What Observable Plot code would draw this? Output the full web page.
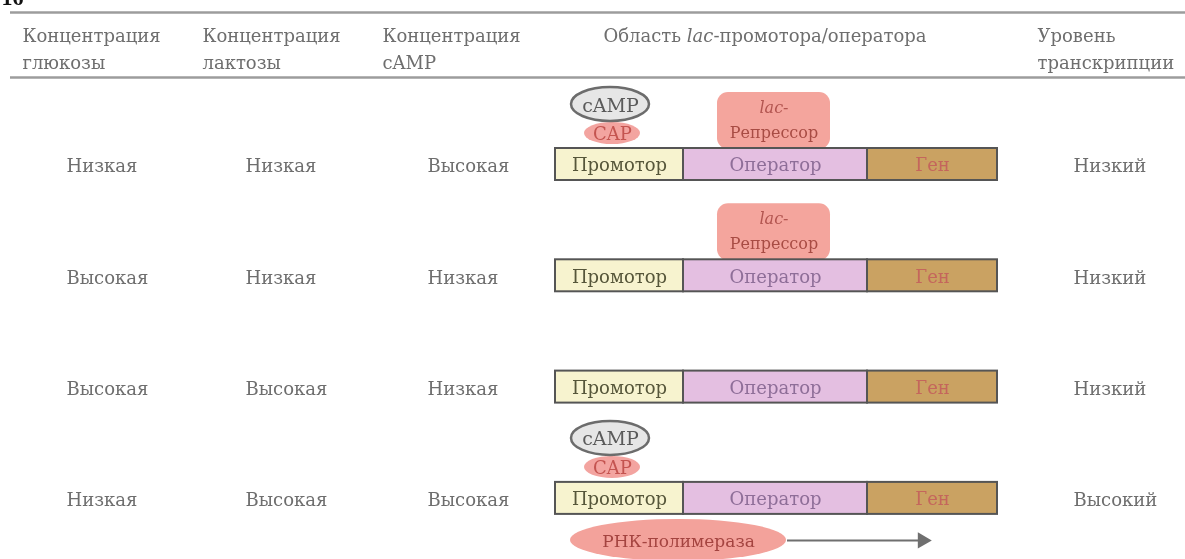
<!DOCTYPE html>
<html>
<head>
<meta charset="utf-8">
<script src="https://cdn.jsdelivr.net/npm/d3@7"></script>
<script src="https://cdn.jsdelivr.net/npm/@observablehq/plot@0.6"></script>
<style>
  html, body { margin: 0; padding: 0; background: #fff; }
  #chart svg { display: block; filter: blur(0.45px); }
</style>
</head>
<body>
<div id="chart"></div>
<script>
// ---------- data ----------
const headers = [
  "Концентрация\nглюкозы",
  "Концентрация\nлактозы",
  "Концентрация\ncAMP",
  "Область lac-промотора/оператора",
  "Уровень\nтранскрипции"
];
const glucose = ["Низкая", "Высокая", "Высокая", "Низкая"];
const lactose = ["Низкая", "Низкая", "Высокая", "Высокая"];
const camp = ["Высокая", "Низкая", "Низкая", "Высокая"];
const transcription = ["Низкий", "Низкий", "Низкий", "Высокий"];
const segments = ["Промотор", "Оператор", "Ген"];
const capBound = [true, false, false, true];
const repressorBound = [true, true, false, false];
const polymeraseBound = [false, false, false, true];
const figureNumber = "16";

// ---------- layout (positions & styles, kept apart from the data) ----------
const W = 1185, H = 559;
const L = {
  ruleY: [12, 77], ruleX1: 10,
  headerX: [22, 202, 382, 603, 1037],
  headerY: 33, headerGap: 27,
  valueX: [66, 245, 427, 1073],
  barTop0: 148, rowStep: 111.3, barH: 32,
  segEdges: [555, 683, 867, 997],
  segFill: ["#f7f3cf", "#e4bfe1", "#caa262"],
  segText: ["#56563a", "#8e6e98", "#c4665c"],
  campX: 610, campRx: 39, campRy: 17, campDy: -44,
  capX: 612, capRx: 28, capRy: 11, capDy: -15,
  repX1: 717, repX2: 830, repH: 56,
  polX: 678, polRx: 108, polRy: 21, polDy: 26,
  arrowX1: 787, arrowX2: 928
};
const font = "DejaVu Serif";
const grey = "#6e6e6e";
const barTop = i => L.barTop0 + i * L.rowStep;
const barMid = i => barTop(i) + L.barH / 2;

const rows = glucose.map((g, i) => ({
  i, glucose: g, lactose: lactose[i], camp: camp[i], level: transcription[i],
  cap: capBound[i], rep: repressorBound[i], pol: polymeraseBound[i]
}));
const segRows = rows.flatMap(r => segments.map((s, j) => ({row: r.i, seg: s, j})));
const capRows = rows.filter(r => r.cap);
const repRows = rows.filter(r => r.rep);
const polRows = rows.filter(r => r.pol);
const headerRows = headers.map((h, k) => ({h, k}));

const valueCols = ["glucose", "lactose", "camp", "level"];

const marks = [
  // figure number, cut at the top edge
  Plot.text([figureNumber], {x: () => 1, y: () => 4, text: d => d, textAnchor: "start", lineAnchor: "bottom",
    fontSize: 22, fontWeight: "bold", fontFamily: "Liberation Serif", fill: "#111"}),
  // header rules
  Plot.ruleY(L.ruleY, {y: d => d, x1: L.ruleX1, x2: W, stroke: "#9c9c9c", strokeWidth: 2.5}),
  // headers
  Plot.text(headerRows, {
    x: d => L.headerX[d.k], y: d => L.headerY + (d.h.includes("\n") ? L.headerGap / 2 : 0),
    text: "h", textAnchor: "start", lineAnchor: "middle", lineHeight: L.headerGap / 18,
    fontSize: 18, fontFamily: font, fill: grey
  }),
  // row values
  ...valueCols.map((c, k) => Plot.text(rows, {
    x: () => L.valueX[k], y: d => barMid(d.i) + 2, text: c,
    textAnchor: "start", lineAnchor: "middle", fontSize: 18, fontFamily: font, fill: grey
  })),
  // cAMP / CAP
  Plot.rect(capRows, {
    x1: d => L.capX - L.capRx, x2: d => L.capX + L.capRx,
    y1: d => barTop(d.i) + L.capDy - L.capRy, y2: d => barTop(d.i) + L.capDy + L.capRy,
    rx: L.capRx, ry: L.capRy, fill: "#f3a4a0", ariaLabel: "cap-blob"
  }),
  Plot.text(capRows, {x: () => L.capX, y: d => barTop(d.i) + L.capDy + 1, text: () => "CAP",
    fontSize: 18, fontFamily: font, fill: "#c45450", lineAnchor: "middle"}),
  Plot.rect(capRows, {
    x1: d => L.campX - L.campRx, x2: d => L.campX + L.campRx,
    y1: d => barTop(d.i) + L.campDy - L.campRy, y2: d => barTop(d.i) + L.campDy + L.campRy,
    rx: L.campRx, ry: L.campRy, fill: "#e6e6e6", stroke: "#6c6c6c", strokeWidth: 2.5
  }),
  Plot.text(capRows, {x: () => L.campX, y: d => barTop(d.i) + L.campDy + 1, text: () => "cAMP",
    fontSize: 19, fontFamily: font, fill: "#5a5a5a", lineAnchor: "middle"}),
  // lac repressor
  Plot.rect(repRows, {
    x1: () => L.repX1, x2: () => L.repX2,
    y1: d => barTop(d.i) - L.repH, y2: d => barTop(d.i) + 1,
    rx: 11, fill: "#f4a59d", ariaLabel: "rep-blob"
  }),
  Plot.text(repRows, {x: () => (L.repX1 + L.repX2) / 2, y: d => barTop(d.i) - 41, text: () => "lac-",
    fontSize: 16, fontStyle: "italic", fontFamily: font, fill: "#b25550", lineAnchor: "middle"}),
  Plot.text(repRows, {x: () => (L.repX1 + L.repX2) / 2, y: d => barTop(d.i) - 16, text: () => "Репрессор",
    fontSize: 16, fontFamily: font, fill: "#a84c44", lineAnchor: "middle"}),
  // DNA bar
  Plot.rect(segRows, {
    x1: d => L.segEdges[d.j], x2: d => L.segEdges[d.j + 1],
    y1: d => barTop(d.row), y2: d => barTop(d.row) + L.barH,
    fill: d => L.segFill[d.j], stroke: "#555", strokeWidth: 2
  }),
  Plot.text(segRows, {
    x: d => (L.segEdges[d.j] + L.segEdges[d.j + 1]) / 2, y: d => barMid(d.row) + 1,
    text: "seg", fill: d => L.segText[d.j], fontSize: 18, fontFamily: font, lineAnchor: "middle"
  }),
  // RNA polymerase + arrow
  Plot.rect(polRows, {
    x1: () => L.polX - L.polRx, x2: () => L.polX + L.polRx,
    y1: d => barTop(d.i) + L.barH + L.polDy - L.polRy, y2: d => barTop(d.i) + L.barH + L.polDy + L.polRy,
    rx: L.polRx, ry: L.polRy, fill: "#f3a29b", ariaLabel: "pol-blob"
  }),
  Plot.text(polRows, {x: () => L.polX, y: d => barTop(d.i) + L.barH + L.polDy + 1, text: () => "РНК-полимераза",
    fontSize: 17, fontFamily: font, fill: "#a44440", lineAnchor: "middle"}),
  Plot.ruleY(polRows, {y: d => barTop(d.i) + L.barH + L.polDy, x1: L.arrowX1, x2: L.arrowX2 - 8,
    stroke: "#6f6f6f", strokeWidth: 2}),
  Plot.dot(polRows, {x: () => L.arrowX2 - 6, y: d => barTop(d.i) + L.barH + L.polDy, symbol: "triangle",
    r: 6, rotate: 90, fill: "#6f6f6f", stroke: "none"})
];

const svg = Plot.plot({
  width: W, height: H, margin: 0,
  x: {axis: null, domain: [0, W], range: [0, W]},
  y: {axis: null, domain: [0, H], range: [0, H]},
  color: {type: "identity"},
  style: {background: "#fff", overflow: "hidden"},
  marks
});

// soft edges for the protein blobs
const NS = "http://www.w3.org/2000/svg";
const defs = document.createElementNS(NS, "defs");
const filt = document.createElementNS(NS, "filter");
filt.setAttribute("id", "soft");
filt.setAttribute("x", "-20%"); filt.setAttribute("y", "-30%");
filt.setAttribute("width", "140%"); filt.setAttribute("height", "160%");
const blur = document.createElementNS(NS, "feGaussianBlur");
blur.setAttribute("stdDeviation", "2");
filt.appendChild(blur); defs.appendChild(filt);
svg.insertBefore(defs, svg.firstChild);
["cap-blob", "rep-blob", "pol-blob"].forEach(a => {
  svg.querySelectorAll(`[aria-label="${a}"]`).forEach(g => g.setAttribute("filter", "url(#soft)"));
});
// italic "lac" in the header
svg.querySelectorAll("text").forEach(t => {
  if (t.textContent === "Область lac-промотора/оператора") {
    t.textContent = "";
    const parts = [["Область ", null], ["lac", "italic"], ["-промотора/оператора", null]];
    parts.forEach(([s, st]) => {
      const ts = document.createElementNS(NS, "tspan");
      if (st) ts.setAttribute("font-style", st);
      ts.textContent = s;
      t.appendChild(ts);
    });
  }
});
document.getElementById("chart").appendChild(svg);
</script>
</body>
</html>
